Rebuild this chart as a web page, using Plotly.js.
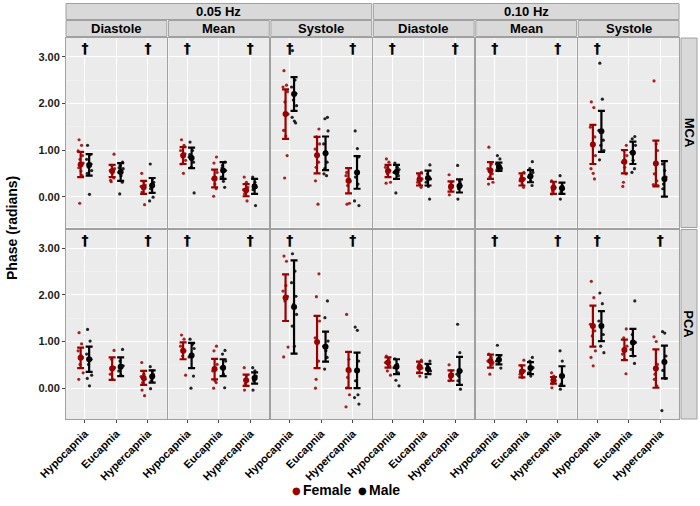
<!DOCTYPE html>
<html>
<head>
<meta charset="utf-8">
<script src="https://cdn.plot.ly/plotly-3.0.1.min.js"></script>
<style>html,body{margin:0;padding:0;background:#fff;}#chart{width:700px;height:506px;}</style>
</head>
<body>
<div id="chart"></div>
<script>
// ---------------- DATA ----------------
const categories = ['Hypocapnia', 'Eucapnia', 'Hypercapnia'];
const frequencies = ['0.05 Hz', '0.10 Hz'];
const phases = ['Diastole', 'Mean', 'Systole'];
const arteries = ['MCA', 'PCA'];
const sexes = ['Female', 'Male'];

// panel order: 0.05 Diastole, 0.05 Mean, 0.05 Systole, 0.10 Diastole, 0.10 Mean, 0.10 Systole
// each panel: [Hypocapnia, Eucapnia, Hypercapnia]
const meanF_MCA = [[0.69,0.55,0.20],[0.88,0.39,0.14],[1.77,0.89,0.34],[0.55,0.37,0.22],[0.56,0.37,0.19],[1.12,0.75,0.71]];
const errF_MCA  = [[0.27,0.13,0.14],[0.18,0.19,0.13],[0.53,0.39,0.27],[0.13,0.13,0.11],[0.18,0.13,0.13],[0.42,0.25,0.49]];
const meanM_MCA = [[0.68,0.53,0.24],[0.83,0.56,0.22],[2.20,0.93,0.52],[0.53,0.40,0.23],[0.64,0.44,0.18],[1.40,0.94,0.38]];
const errM_MCA  = [[0.23,0.19,0.16],[0.22,0.18,0.16],[0.36,0.36,0.35],[0.15,0.16,0.14],[0.09,0.13,0.12],[0.44,0.24,0.38]];
const meanF_PCA = [[0.65,0.42,0.22],[0.80,0.41,0.17],[1.94,0.99,0.39],[0.55,0.45,0.27],[0.58,0.36,0.17],[1.33,0.82,0.42]];
const errF_PCA  = [[0.22,0.24,0.15],[0.18,0.22,0.12],[0.50,0.56,0.39],[0.11,0.12,0.11],[0.14,0.13,0.07],[0.44,0.22,0.41]];
const meanM_PCA = [[0.62,0.46,0.25],[0.70,0.44,0.22],[1.74,0.89,0.38],[0.46,0.41,0.37],[0.61,0.43,0.26],[1.33,0.98,0.56]];
const errM_PCA  = [[0.27,0.20,0.13],[0.27,0.18,0.12],[1.00,0.32,0.38],[0.16,0.11,0.30],[0.10,0.13,0.21],[0.32,0.29,0.35]];

// individual observations
const ptsF_MCA = [
  [[1.22,1.10,0.98,0.88,0.80,0.72,0.62,0.55,0.45,-0.14],[0.91,0.67,0.60,0.56,0.50,0.40,0.32,0.35],[0.50,0.32,0.25,0.18,0.10,-0.17,0.22]],
  [[1.22,1.10,0.99,0.92,0.85,0.78,0.70,0.50],[0.85,0.72,0.52,0.38,0.27,0.17,0.01],[0.42,0.31,0.20,0.13,0.06,-0.09,0.15]],
  [[2.70,2.39,2.35,2.25,2.03,1.77,1.42,1.30,0.88,0.40],[1.45,1.28,1.13,1.02,0.88,0.74,0.63,0.34,-0.16],[0.52,0.38,0.33,0.24,-0.16,-0.14,0.45]],
  [[0.81,0.74,0.63,0.56,0.49,0.31,0.29],[0.52,0.45,0.38,0.31,0.26,0.20,0.40],[0.47,0.31,0.24,0.17,0.04,0.22]],
  [[1.06,0.70,0.60,0.49,0.42,0.31,0.27,0.56],[0.52,0.45,0.38,0.34,0.27,0.20],[0.34,0.27,0.20,0.13,0.06,0.22]],
  [[2.03,1.91,1.49,1.28,1.10,0.88,0.60,0.50,0.38],[1.10,0.99,0.88,0.74,0.63,0.49,0.31,0.22],[2.48,1.13,0.99,0.70,0.49,0.34,0.26,0.24]]
];
const ptsM_MCA = [
  [[1.10,0.90,0.80,0.70,0.63,0.56,0.50,0.05],[0.74,0.67,0.60,0.52,0.45,0.31,0.06,0.62],[0.70,0.38,0.31,0.24,0.17,-0.01,-0.09]],
  [[1.17,0.99,0.85,0.74,0.63,0.08,0.90],[0.74,0.67,0.56,0.42,0.33,0.20,0.62],[0.42,0.31,0.20,0.25,0.15,-0.19]],
  [[3.13,2.50,2.35,2.21,2.07,1.95,1.70,1.62,1.58],[1.70,1.67,1.41,1.13,0.92,0.74,0.60,0.49,0.45],[1.41,1.03,0.85,0.52,0.42,0.27,-0.09,-0.19]],
  [[0.72,0.63,0.52,0.45,0.08,0.58],[0.68,0.49,0.38,0.31,0.22,-0.05],[0.67,0.33,0.24,0.17,-0.05,0.28]],
  [[0.88,0.81,0.70,0.63,0.56,0.60,0.58],[0.75,0.60,0.52,0.42,0.34,0.24],[0.45,0.24,0.17,0.10,-0.05]],
  [[2.86,2.09,1.42,1.21,1.10,0.99,0.79],[1.29,1.24,1.10,0.95,0.78,0.60,0.52],[0.70,0.56,0.42,0.27,0.17,0.35]]
];
const ptsF_PCA = [
  [[1.19,0.95,0.80,0.66,0.51,0.33,0.19,0.70],[0.81,0.62,0.44,0.30,0.19,0.45],[0.55,0.30,0.19,0.12,-0.04,-0.16,0.25]],
  [[1.14,1.05,0.90,0.80,0.69,0.28],[0.90,0.80,0.51,0.37,0.16,0.12,0.00],[0.44,0.26,0.16,0.09,-0.04]],
  [[2.83,2.72,2.08,1.97,1.87,0.88,0.67,2.20],[2.45,1.96,1.44,1.08,0.98,0.58,0.19,0.00],[1.58,0.62,0.37,0.23,0.01,-0.14,-0.40]],
  [[0.69,0.62,0.55,0.48,0.37,0.28],[0.60,0.51,0.43,0.33,0.26,0.48],[0.50,0.37,0.30,0.23,0.16,0.26]],
  [[0.73,0.66,0.58,0.51,0.30,0.55],[0.60,0.48,0.37,0.30,0.23],[0.33,0.26,0.16,0.10,0.01]],
  [[2.29,1.94,1.37,1.23,1.12,0.80,0.66,0.48],[1.27,1.08,0.90,0.73,0.62,0.31],[1.10,1.00,0.51,0.30,0.19,0.05]]
];
const ptsM_PCA = [
  [[1.26,1.01,0.73,0.62,0.51,0.28,0.21,0.05],[0.83,0.58,0.48,0.37,0.28],[0.46,0.37,0.26,0.16,-0.01,0.30]],
  [[1.05,0.94,0.67,0.26,0.00,0.85],[0.81,0.73,0.58,0.44,0.30,0.01],[0.44,0.37,0.26,0.16,-0.04,0.20]],
  [[2.88,2.51,2.26,1.97,1.79,1.58,1.33,0.90],[1.87,1.51,1.01,0.90,0.80,0.66,0.41],[1.31,1.24,0.58,0.37,0.16,-0.14,-0.20,-0.34]],
  [[0.63,0.51,0.44,0.33,0.17,0.05],[0.58,0.48,0.37,0.24,0.42],[1.37,0.76,0.37,0.26,0.16,-0.02,0.30]],
  [[0.92,0.69,0.58,0.43,0.62],[0.66,0.58,0.44,0.33,0.26],[0.80,0.58,0.26,0.09,-0.02]],
  [[2.04,1.81,1.44,1.15,0.90,0.76],[1.87,1.15,0.98,0.83,0.69,0.53],[1.21,1.18,0.69,0.58,0.38,0.21,-0.48]]
];

// significance daggers (1 = shown) per panel [Hypo, Euc, Hyper]
const dagger_MCA = [[1,0,1],[1,0,1],[1,0,1],[1,0,1],[1,0,1],[1,0,0]];
const dagger_PCA = [[1,0,1],[1,0,1],[1,0,1],[0,0,0],[1,0,1],[1,0,1]];
const daggerLevel = 3.15;

// ---------------- STYLE / LAYOUT ----------------
const W = 700, H = 506;
const FONT = 'Liberation Sans, Arial, sans-serif';
const colors = {Female: '#990000', Male: '#000000'};
const dodge = {Female: -0.135, Male: 0.135};
const jitter = [-0.05, 0.03, -0.08, 0.06, -0.02, 0.08, -0.06, 0.01, 0.05, -0.03];
const colLeft0 = 66, colPitch = 102.45, colW = 100.8;
const rowsPx = [[38, 227.5], [229.5, 419]];
const yRange = [-0.66, 3.40];

const dataSets = {
  MCA: {Female: {mean: meanF_MCA, err: errF_MCA, pts: ptsF_MCA}, Male: {mean: meanM_MCA, err: errM_MCA, pts: ptsM_MCA}, dag: dagger_MCA},
  PCA: {Female: {mean: meanF_PCA, err: errF_PCA, pts: ptsF_PCA}, Male: {mean: meanM_PCA, err: errM_PCA, pts: ptsM_PCA}, dag: dagger_PCA}
};

const px = x => x / W;
const py = y => 1 - y / H;
const stripFont = {family: FONT, size: 13, weight: 700, color: '#000'};

const traces = [];
const layout = {
  width: W, height: H,
  margin: {l: 0, r: 0, t: 0, b: 0},
  paper_bgcolor: '#FFFFFF',
  plot_bgcolor: '#EBEBEB',
  font: {family: FONT, color: '#000'},
  showlegend: false,
  shapes: [], annotations: []
};

arteries.forEach((art, r) => {
  const ds = dataSets[art];
  for (let c = 0; c < 6; c++) {
    const k = r * 6 + c + 1;
    const xa = k === 1 ? 'x' : 'x' + k;
    const ya = k === 1 ? 'y' : 'y' + k;
    const left = colLeft0 + c * colPitch;
    layout['xaxis' + (k === 1 ? '' : k)] = {
      domain: [px(left), px(left + colW)],
      anchor: ya, range: [0.4, 3.6],
      tickmode: 'array', tickvals: [1, 2, 3], ticktext: categories,
      showticklabels: r === 1, tickangle: -45,
      tickfont: {family: FONT, size: 11, weight: 700, color: '#000'},
      ticks: r === 1 ? 'outside' : '', ticklen: 3, tickcolor: '#444',
      showgrid: true, gridcolor: '#FFFFFF', gridwidth: 1,
      zeroline: false, showline: true, mirror: true, linecolor: '#A0A0A0', linewidth: 1,
      fixedrange: true
    };
    layout['yaxis' + (k === 1 ? '' : k)] = {
      domain: [py(rowsPx[r][1]), py(rowsPx[r][0])],
      anchor: xa, range: yRange,
      tickmode: 'linear', tick0: 0, dtick: 1, tickformat: '.2f',
      showticklabels: c === 0,
      tickfont: {family: FONT, size: 11, weight: 700, color: '#1a1a1a'},
      ticks: c === 0 ? 'outside' : '', ticklen: 3, tickcolor: '#444',
      showgrid: true, gridcolor: '#FFFFFF', gridwidth: 1,
      minor: {dtick: 0.5, tick0: 0, showgrid: true, gridcolor: '#F4F4F4', gridwidth: 0.6, ticks: ''},
      zeroline: false, showline: true, mirror: true, linecolor: '#A0A0A0', linewidth: 1,
      fixedrange: true
    };

    sexes.forEach(sex => {
      const g = ds[sex];
      const xs = [], ys = [];
      g.pts[c].forEach((vals, j) => {
        vals.forEach((v, i) => { xs.push(j + 1 + dodge[sex] + jitter[(i + j * 3) % jitter.length]); ys.push(v); });
      });
      traces.push({type: 'scatter', mode: 'markers', x: xs, y: ys, xaxis: xa, yaxis: ya,
        marker: {color: colors[sex], size: 3.2, opacity: 0.85}, showlegend: false, hoverinfo: 'skip'});
    });
    sexes.forEach(sex => {
      const g = ds[sex];
      traces.push({type: 'scatter', mode: 'markers', name: sex,
        x: categories.map((_, j) => j + 1 + dodge[sex]), y: g.mean[c], xaxis: xa, yaxis: ya,
        marker: {color: colors[sex], size: 6},
        error_y: {type: 'data', array: g.err[c], visible: true, color: colors[sex], thickness: 2.2, width: 3.5},
        showlegend: false, hoverinfo: 'skip'});
    });
    const dx = [], dy = [];
    ds.dag[c].forEach((f, j) => { if (f) { dx.push(j + 1); dy.push(daggerLevel); } });
    if (dx.length) {
      traces.push({type: 'scatter', mode: 'text', x: dx, y: dy, text: dx.map(() => '†'), xaxis: xa, yaxis: ya,
        textposition: 'middle center', textfont: {family: 'DejaVu Sans, sans-serif', size: 14, weight: 700, color: '#000000'},
        showlegend: false, hoverinfo: 'skip'});
    }
  }
  // right strip
  const [t, b] = rowsPx[r];
  layout.shapes.push({type: 'rect', xref: 'paper', yref: 'paper', x0: px(681), x1: px(697), y0: py(b), y1: py(t),
    fillcolor: '#D9D9D9', line: {color: '#A0A0A0', width: 1}, layer: 'below'});
  layout.annotations.push({xref: 'paper', yref: 'paper', x: px(689), y: py((t + b) / 2), text: art, showarrow: false,
    xanchor: 'center', yanchor: 'middle', textangle: 90, font: stripFont});
});

// top strips
frequencies.forEach((f, fi) => {
  const l = colLeft0 + fi * 3 * colPitch, rgt = l + 2 * colPitch + colW;
  layout.shapes.push({type: 'rect', xref: 'paper', yref: 'paper', x0: px(l), x1: px(rgt), y0: py(19.5), y1: py(3.5),
    fillcolor: '#D9D9D9', line: {color: '#A0A0A0', width: 1}, layer: 'below'});
  layout.annotations.push({xref: 'paper', yref: 'paper', x: px((l + rgt) / 2), y: py(11.5), text: f, showarrow: false,
    xanchor: 'center', yanchor: 'middle', font: stripFont});
  phases.forEach((ph, pi) => {
    const l2 = colLeft0 + (fi * 3 + pi) * colPitch, r2 = l2 + colW;
    layout.shapes.push({type: 'rect', xref: 'paper', yref: 'paper', x0: px(l2), x1: px(r2), y0: py(36.5), y1: py(20.5),
      fillcolor: '#D9D9D9', line: {color: '#A0A0A0', width: 1}, layer: 'below'});
    layout.annotations.push({xref: 'paper', yref: 'paper', x: px((l2 + r2) / 2), y: py(28.5), text: ph, showarrow: false,
      xanchor: 'center', yanchor: 'middle', font: stripFont});
  });
});

// y-axis title
layout.annotations.push({xref: 'paper', yref: 'paper', x: px(12), y: py(228), text: 'Phase (radians)', showarrow: false,
  xanchor: 'center', yanchor: 'middle', textangle: -90, font: {family: FONT, size: 14, weight: 700, color: '#000'}});

// compact legend (key dot + label for each sex)
const legendKeyX = [296, 362];
sexes.forEach((sex, i) => {
  layout.annotations.push({xref: 'paper', yref: 'paper', x: px(legendKeyX[i]), y: py(490), text: '●', showarrow: false,
    xanchor: 'center', yanchor: 'middle', font: {family: 'DejaVu Sans, sans-serif', size: 10, color: colors[sex]}});
  layout.annotations.push({xref: 'paper', yref: 'paper', x: px(legendKeyX[i] + 5), y: py(490), text: sex, showarrow: false,
    xanchor: 'left', yanchor: 'middle', font: {family: FONT, size: 14, weight: 700, color: '#000'}});
});

Plotly.newPlot('chart', traces, layout, {displayModeBar: false, staticPlot: true});
</script>
</body>
</html>
